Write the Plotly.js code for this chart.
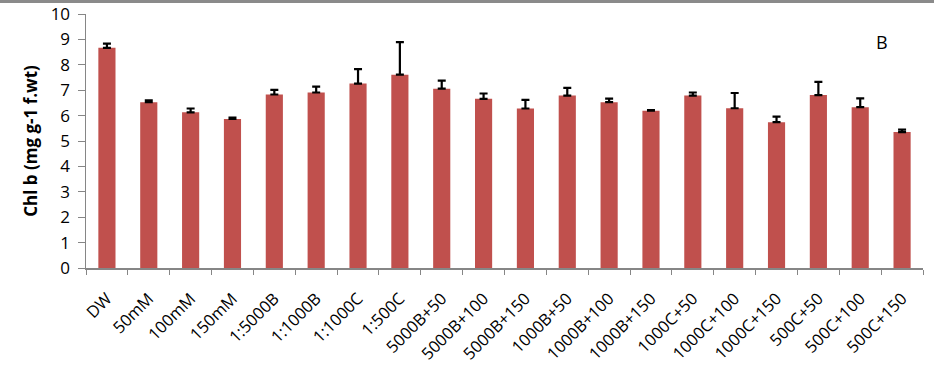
<!DOCTYPE html>
<html>
<head>
<meta charset="utf-8">
<script src="https://cdn.plot.ly/plotly-3.0.1.min.js"></script>
<style>
html,body{margin:0;padding:0;background:#fff;}
#frame{width:934px;height:367px;position:relative;overflow:hidden;}
#topline{position:absolute;left:0;top:0;width:934px;height:3px;background:#8a8a8a;z-index:5;}
#chart{width:934px;height:367px;}
</style>
</head>
<body>
<div id="frame"><div id="topline"></div><div id="chart"></div></div>
<script>
const categories = ["DW","50mM","100mM","150mM","1:5000B","1:1000B","1:1000C","1:500C","5000B+50","5000B+100","5000B+150","1000B+50","1000B+100","1000B+150","1000C+50","1000C+100","1000C+150","500C+50","500C+100","500C+150"];
const chlB = [8.67,6.53,6.13,5.87,6.83,6.91,7.26,7.61,7.06,6.66,6.28,6.79,6.53,6.19,6.79,6.29,5.74,6.81,6.33,5.35];
const chlBErr = [0.16,0.07,0.15,0.05,0.18,0.23,0.57,1.28,0.32,0.21,0.34,0.30,0.14,0.03,0.12,0.60,0.22,0.52,0.35,0.10];
const yTicks = [0,1,2,3,4,5,6,7,8,9,10];
const panelLabel = "B";
const yTitle = "Chl b (mg g-1 f.wt)";

const trace = {
  type: "bar",
  x: categories,
  y: chlB,
  marker: {color: "#C0504D"},
  error_y: {
    type: "data",
    symmetric: false,
    array: chlBErr,
    arrayminus: chlB.map(() => 0),
    color: "#000000",
    thickness: 2.2,
    width: 4
  },
  hoverinfo: "x+y"
};

const FONT = "Open Sans, Liberation Sans, sans-serif";

const layout = {
  width: 934,
  height: 367,
  margin: {l: 86, r: 11, t: 14, b: 99, autoexpand: false},
  paper_bgcolor: "#ffffff",
  plot_bgcolor: "#ffffff",
  bargap: 0.59,
  showlegend: false,
  font: {family: FONT, color: "#000"},
  xaxis: {
    type: "category",
    automargin: false,
    tickangle: -45,
    tickson: "boundaries",
    ticks: "outside",
    ticklen: 5,
    tickcolor: "#868686",
    ticklabelstandoff: 13,
    showline: true,
    linecolor: "#868686",
    linewidth: 1.5,
    showgrid: false,
    tickfont: {size: 16.5, family: FONT, color: "#000"}
  },
  yaxis: {
    automargin: false,
    range: [0, 10],
    tickvals: yTicks,
    ticktext: yTicks.map(String),
    ticks: "outside",
    ticklen: 7,
    tickcolor: "#868686",
    ticklabelstandoff: 4,
    showline: true,
    linecolor: "#868686",
    linewidth: 1.5,
    showgrid: false,
    zeroline: false,
    tickfont: {size: 17, family: FONT, color: "#000"},
    title: {text: "<b>" + yTitle + "</b>", font: {size: 17, family: FONT, color: "#000"}, standoff: 8}
  },
  annotations: [{
    text: panelLabel,
    xref: "paper", yref: "paper",
    x: 0.951, y: 0.89,
    xanchor: "center", yanchor: "middle",
    showarrow: false,
    font: {size: 18, family: FONT, color: "#000"}
  }]
};

Plotly.newPlot("chart", [trace], layout, {displayModeBar: false, staticPlot: true});
</script>
</body>
</html>
